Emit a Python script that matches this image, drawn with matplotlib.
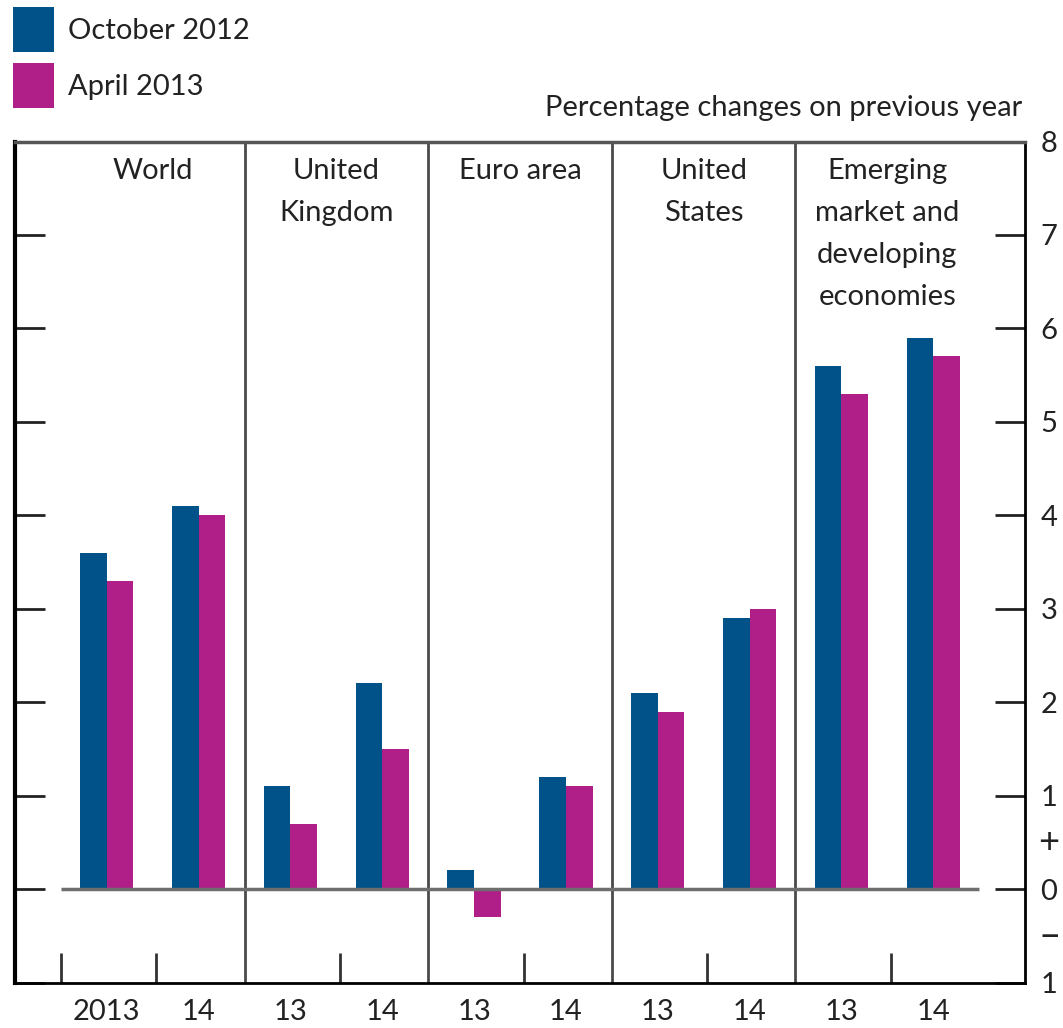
import matplotlib
matplotlib.use("Agg")
import matplotlib.pyplot as plt
import matplotlib.transforms as mtransforms
import numpy as np


PLOT_STYLE = {
    "font.family": ["Lato", "DejaVu Sans"],
    "font.size": 21,
    "axes.linewidth": 1.5,
}
plt.rcParams.update(PLOT_STYLE)

# ----------------------------- data ---------------------------------------

REGIONS = ["World", "United\nKingdom", "Euro area", "United\nStates",
           "Emerging\nmarket and\ndeveloping\neconomies"]
YEAR_LABELS = ["2013", "14", "13", "14", "13", "14", "13", "14", "13", "14"]
SERIES_NAMES = ["October 2012", "April 2013"]
OCT_2012 = [3.6, 4.1, 1.1, 2.2, 0.2, 1.2, 2.1, 2.9, 5.6, 5.9]
APR_2013 = [3.3, 4.0, 0.7, 1.5, -0.3, 1.1, 1.9, 3.0, 5.3, 5.7]
Y_TICKS = [-1, 0, 1, 2, 3, 4, 5, 6, 7, 8]
Y_TICK_LABELS = ["1", "0", "1", "2", "3", "4", "5", "6", "7", "8"]
UNITS = "Percentage changes on previous year"

BLUE = "#005288"
MAGENTA = "#B01E88"
GREY = "#6e6e6e"
TEXT = "#222222"


def main():
    fig = plt.figure(figsize=(10.63, 10.28), dpi=100)
    ax = fig.add_axes([15 / 1063, 1 - 982.5 / 1028, 1010 / 1063, 841 / 1028])

    x = np.arange(len(YEAR_LABELS))
    w = 0.29
    ax.bar(x - w / 2, OCT_2012, width=w, color=BLUE, label=SERIES_NAMES[0], zorder=2)
    ax.bar(x + w / 2, APR_2013, width=w, color=MAGENTA, label=SERIES_NAMES[1], zorder=2)

    # zero line stops short of the frame
    ax.plot([x[0] - 0.5, x[-1] + 0.5], [0, 0], color=GREY, lw=2.5, zorder=3,
            solid_capstyle="butt")

    # region dividers + titles
    n_groups = len(REGIONS)
    for g in range(n_groups - 1):
        ax.axvline(2 * g + 1.5, color="#4a4a4a", lw=2, zorder=1)
    trans = mtransforms.blended_transform_factory(ax.transData, ax.transAxes)
    for g, name in enumerate(REGIONS):
        ax.text(2 * g + 0.5, 0.98, name, transform=trans, ha="center", va="top",
                linespacing=1.76, color=TEXT)

    ax.set_xlim(-1, 10)
    ax.set_ylim(-1, 8)

    # x axis: year labels under the pairs, small ticks between pairs
    ax.set_xticks(x)
    ax.set_xticklabels(YEAR_LABELS)
    ax.set_xticks([-0.5] + [2 * g + 0.54 for g in range(n_groups)], minor=True)
    ax.tick_params(axis="x", which="major", length=0, pad=12, colors=TEXT)
    ax.tick_params(axis="x", which="minor", direction="in", length=21.6,
                   width=2, color="#333333")

    # y axis: ticks both sides, labels right
    ax.set_yticks(Y_TICKS)
    ax.set_yticklabels(Y_TICK_LABELS)
    ax.tick_params(axis="y", direction="in", length=21.6, width=2,
                   left=True, right=True, labelleft=False, labelright=True,
                   pad=11, colors=TEXT)
    for t in ax.yaxis.get_major_ticks():
        t.tick1line.set_color("#333333")
        t.tick2line.set_color("#333333")
    zero_tick = ax.yaxis.get_major_ticks()[Y_TICKS.index(0)]
    zero_tick.tick1line.set_color(GREY)
    zero_tick.tick2line.set_color(GREY)
    ytrans = mtransforms.blended_transform_factory(ax.transAxes, ax.transData)
    ax.text(1.013, 0.5, "+", transform=ytrans, ha="left", va="center",
            color=TEXT, fontsize=26)
    ax.text(1.013, -0.5, "\u2013", transform=ytrans, ha="left", va="center",
            color=TEXT, fontsize=28)

    ax.spines["left"].set_linewidth(3)
    ax.spines["left"].set_color("black")
    ax.spines["top"].set_color("#555555")
    ax.spines["top"].set_linewidth(2.5)
    ax.spines["bottom"].set_linewidth(2)
    ax.spines["right"].set_linewidth(2)

    fig.text(1022 / 1063, 1 - 108 / 1028, UNITS, ha="right", va="center", color=TEXT)

    fig.legend(loc="upper left", bbox_to_anchor=(13 / 1063, 1 - 7 / 1028),
               frameon=False, borderpad=0, borderaxespad=0, handlelength=1.4,
               handleheight=1.99, labelspacing=0.38, handletextpad=0.48,
               labelcolor=TEXT)

    fig.savefig("out.png", dpi=100)
    plt.close(fig)


if __name__ == "__main__":
    main()
